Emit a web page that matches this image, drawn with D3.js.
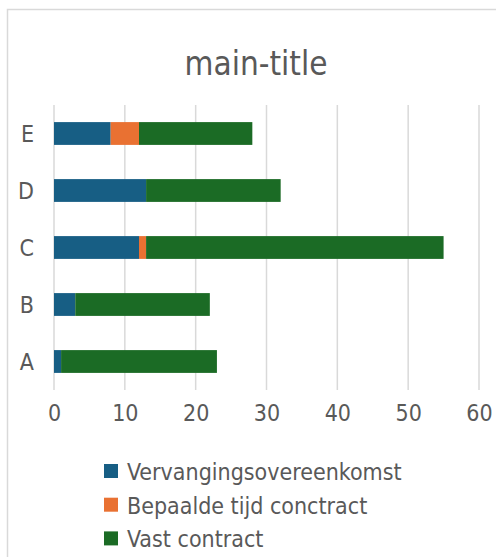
<!DOCTYPE html>
<html><head><meta charset="utf-8">
<script src="https://cdn.jsdelivr.net/npm/d3@7"></script>
<style>
html,body{margin:0;padding:0;background:#fff;}
text{font-family:"DejaVu Sans Condensed","DejaVu Sans",sans-serif;font-stretch:condensed;fill:#595959;}
</style></head>
<body>
<svg id="chart" width="496" height="557"></svg>
<script>
const categories = ["A", "B", "C", "D", "E"];
const seriesNames = ["Vervangingsovereenkomst", "Bepaalde tijd conctract", "Vast contract"];
const vervangingsovereenkomst = [1, 3, 12, 13, 8];
const bepaaldeTijd = [0, 0, 1, 0, 4];
const vastContract = [22, 19, 42, 19, 16];
const colors = ["#175e84", "#e97132", "#1b6b25"];
const xTicks = [0, 10, 20, 30, 40, 50, 60];
const title = "main-title";

const svg = d3.select("#chart");
// chart border
svg.append("rect").attr("x", 7.5).attr("y", 9.5).attr("width", 520).attr("height", 600)
  .attr("fill", "none").attr("stroke", "#d9d9d9").attr("stroke-width", 1.5);

svg.append("text").attr("x", 256).attr("y", 75).attr("text-anchor", "middle")
  .style("font-size", "33px").text(title);

const x = d3.scaleLinear().domain([0, 60]).range([54, 479]);
const y = d3.scaleBand().domain(categories.slice().reverse()).range([105, 390])
  .paddingInner(0.6).paddingOuter(0.3);

// gridlines
svg.append("g").selectAll("line").data(xTicks).join("line")
  .attr("x1", d => x(d)).attr("x2", d => x(d)).attr("y1", 105).attr("y2", 390)
  .attr("stroke", "#d9d9d9").attr("stroke-width", 1.5);

const rows = categories.map((c, i) => ({cat: c, v0: vervangingsovereenkomst[i], v1: bepaaldeTijd[i], v2: vastContract[i]}));
const stack = d3.stack().keys(["v0", "v1", "v2"])(rows);
svg.append("g").selectAll("g").data(stack).join("g").attr("fill", (d, i) => colors[i])
  .selectAll("rect").data(d => d).join("rect")
  .attr("x", d => x(d[0])).attr("width", d => x(d[1]) - x(d[0]))
  .attr("y", d => y(d.data.cat)).attr("height", y.bandwidth());

// x axis labels
const xAxis = svg.append("g").attr("transform", "translate(0,390)")
  .call(d3.axisBottom(x).tickValues(xTicks).tickSize(0).tickPadding(0).tickFormat(d3.format("d")));
xAxis.select(".domain").remove();
xAxis.selectAll("text").attr("dy", null).attr("y", 31).style("font-size", "23px").style("fill", "#595959");

// y axis labels
const yAxis = svg.append("g").attr("transform", "translate(34,0)")
  .call(d3.axisLeft(y).tickSize(0).tickPadding(0));
yAxis.select(".domain").remove();
yAxis.selectAll("text").style("font-size", "23px").style("fill", "#595959").attr("dy", "0.35em");

// legend
const lg = svg.append("g");
seriesNames.forEach((s, i) => {
  const base = 480 + i * 33.7;
  lg.append("rect").attr("x", 104).attr("y", base - 16).attr("width", 14).attr("height", 14).attr("fill", colors[i]);
  lg.append("text").attr("x", 127).attr("y", base).style("font-size", "23px").text(s);
});
</script>
</body></html>
